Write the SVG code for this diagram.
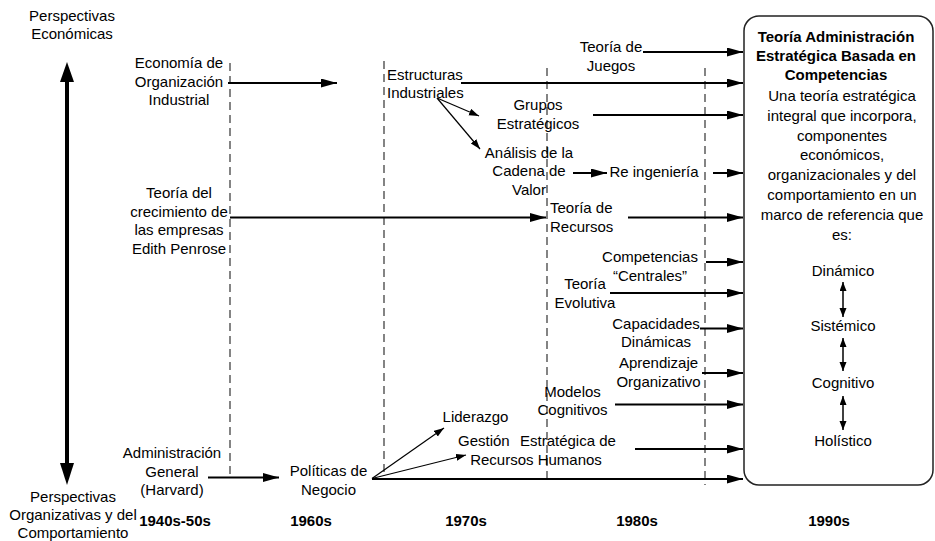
<svg xmlns="http://www.w3.org/2000/svg" width="935" height="541" viewBox="0 0 935 541">
  <defs>
    <style>
      text { font-family: "Liberation Sans", Arial, sans-serif; font-size: 15px; fill: #000; }
      .c { text-anchor: middle; }
      .b { font-weight: bold; }
      .thick { stroke: #000; stroke-width: 2; fill: none; marker-end: url(#headL); }
      .thin { stroke: #000; stroke-width: 1.2; fill: none; marker-end: url(#headS); }
      .both { stroke: #000; stroke-width: 1.5; fill: none; marker-start: url(#headD); marker-end: url(#headD); }
      .era { stroke: #333; stroke-width: 1.2; stroke-dasharray: 8 5; fill: none; }
    </style>
    <marker id="headL" markerUnits="userSpaceOnUse" markerWidth="16" markerHeight="10" refX="16" refY="4.5" orient="auto">
      <path d="M0,0 L16,4.5 L0,9 z" fill="#000"/>
    </marker>
    <marker id="headS" markerUnits="userSpaceOnUse" markerWidth="10" markerHeight="8" refX="10" refY="3.5" orient="auto">
      <path d="M0,0 L10,3.5 L0,7 z" fill="#000"/>
    </marker>
    <marker id="headD" markerUnits="userSpaceOnUse" markerWidth="9" markerHeight="8" refX="9" refY="3.5" orient="auto-start-reverse">
      <path d="M0,0 L9,3.5 L0,7 z" fill="#000"/>
    </marker>
  </defs>

  <!-- decade separators -->
  <g id="timeline">
    <line class="era" x1="230" y1="63" x2="230" y2="478"/>
    <line class="era" x1="384" y1="61" x2="384" y2="476"/>
    <line class="era" x1="547" y1="68" x2="547" y2="484"/>
    <line class="era" x1="705" y1="68" x2="705" y2="485"/>
  </g>

  <!-- axis: economic vs organizational perspectives -->
  <g id="axis">
    <line x1="67" y1="80" x2="67" y2="465" stroke="#000" stroke-width="4"/>
    <path d="M67,62 L74,82 L60,82 z" fill="#000"/>
    <path d="M67,485 L74,463 L60,463 z" fill="#000"/>
  </g>
  <g id="perspectivas-economicas">
    <text class="c" x="72" y="21">Perspectivas</text>
    <text class="c" x="72" y="39">Económicas</text>
  </g>
  <g id="perspectivas-organizativas">
    <text class="c" x="73" y="502">Perspectivas</text>
    <text class="c" x="73" y="520">Organizativas y del</text>
    <text class="c" x="73" y="538">Comportamiento</text>
  </g>

  <!-- decades -->
  <g id="decades">
    <text class="c b" x="175" y="526">1940s-50s</text>
    <text class="c b" x="311" y="526">1960s</text>
    <text class="c b" x="466" y="526">1970s</text>
    <text class="c b" x="637" y="526">1980s</text>
    <text class="c b" x="829" y="526">1990s</text>
  </g>

  <!-- theory nodes -->
  <g id="economia-organizacion-industrial">
    <text class="c" x="179" y="68">Economía de</text>
    <text class="c" x="179" y="86.5">Organización</text>
    <text class="c" x="179" y="105">Industrial</text>
  </g>
  <g id="estructuras-industriales">
    <text x="387" y="79.5">Estructuras</text>
    <text x="387" y="98">Industriales</text>
  </g>
  <g id="teoria-juegos">
    <text class="c" x="611" y="52">Teoría de</text>
    <text class="c" x="611" y="70.5">Juegos</text>
  </g>
  <g id="grupos-estrategicos">
    <text class="c" x="538" y="110">Grupos</text>
    <text class="c" x="538" y="128.5">Estratégicos</text>
  </g>
  <g id="cadena-valor">
    <text class="c" x="529" y="157.5">Análisis de la</text>
    <text class="c" x="529" y="176">Cadena de</text>
    <text class="c" x="529" y="194.5">Valor</text>
  </g>
  <g id="reingenieria">
    <text class="c" x="654" y="176.5">Re ingeniería</text>
  </g>
  <g id="penrose">
    <text class="c" x="179" y="198">Teoría del</text>
    <text class="c" x="179" y="216.5">crecimiento de</text>
    <text class="c" x="179" y="235">las empresas</text>
    <text class="c" x="179" y="253.5">Edith Penrose</text>
  </g>
  <g id="teoria-recursos">
    <text x="550" y="213">Teoría de</text>
    <text x="550" y="231.5">Recursos</text>
  </g>
  <g id="competencias-centrales">
    <text class="c" x="650" y="262">Competencias</text>
    <text class="c" x="650" y="280.5">“Centrales”</text>
  </g>
  <g id="teoria-evolutiva">
    <text class="c" x="585" y="289">Teoría</text>
    <text class="c" x="585" y="307.5">Evolutiva</text>
  </g>
  <g id="capacidades-dinamicas">
    <text class="c" x="656" y="328.5">Capacidades</text>
    <text class="c" x="656" y="347">Dinámicas</text>
  </g>
  <g id="aprendizaje-organizativo">
    <text class="c" x="658.5" y="368">Aprendizaje</text>
    <text class="c" x="658.5" y="386.5">Organizativo</text>
  </g>
  <g id="modelos-cognitivos">
    <text class="c" x="572.5" y="396.5">Modelos</text>
    <text class="c" x="572.5" y="415">Cognitivos</text>
  </g>
  <g id="liderazgo">
    <text class="c" x="475.5" y="422">Liderazgo</text>
  </g>
  <g id="gestion-rrhh">
    <text y="446"><tspan x="458">Gestión</tspan><tspan x="520">Estratégica de</tspan></text>
    <text class="c" x="536" y="464.5">Recursos Humanos</text>
  </g>
  <g id="administracion-general">
    <text class="c" x="172" y="458">Administración</text>
    <text class="c" x="172" y="476.5">General</text>
    <text class="c" x="172" y="495">(Harvard)</text>
  </g>
  <g id="politicas-negocio">
    <text class="c" x="328.5" y="476">Políticas de</text>
    <text class="c" x="328.5" y="494.5">Negocio</text>
  </g>

  <!-- target theory -->
  <g id="teoria-competencias">
    <rect x="744" y="16" width="189" height="469" rx="15" ry="15" fill="#fff" stroke="#222" stroke-width="1.5"/>
    <text class="c b" x="836" y="42">Teoría Administración</text>
    <text class="c b" x="836" y="61">Estratégica Basada en</text>
    <text class="c b" x="836" y="80">Competencias</text>
    <text class="c" x="842" y="101">Una teoría estratégica</text>
    <text class="c" x="842" y="120.8">integral que incorpora,</text>
    <text class="c" x="842" y="140.6">componentes</text>
    <text class="c" x="842" y="160.4">económicos,</text>
    <text class="c" x="842" y="180.2">organizacionales y del</text>
    <text class="c" x="842" y="200">comportamiento en un</text>
    <text class="c" x="842" y="219.8">marco de referencia que</text>
    <text class="c" x="842" y="239.6">es:</text>
    <text class="c" x="843" y="276">Dinámico</text>
    <text class="c" x="843" y="331">Sistémico</text>
    <text class="c" x="843" y="387.5">Cognitivo</text>
    <text class="c" x="843" y="446">Holístico</text>
    <line class="both" x1="843" y1="282" x2="843" y2="317"/>
    <line class="both" x1="843" y1="338" x2="843" y2="371"/>
    <line class="both" x1="843" y1="396" x2="843" y2="430"/>
  </g>

  <!-- connectors -->
  <g id="connectors">
    <path class="thick" d="M228,83 H337"/>
    <path class="thick" d="M461,83 H743"/>
    <path class="thick" d="M643,52 H743"/>
    <path class="thick" d="M593,115 H743"/>
    <path class="thick" d="M573,173 H607"/>
    <path class="thick" d="M713,173 H743"/>
    <path class="thick" d="M230,217.5 H546"/>
    <path class="thick" d="M628,217.5 H743"/>
    <path class="thick" d="M706,262 H743"/>
    <path class="thick" d="M610,293 H743"/>
    <path class="thick" d="M700,328.5 H743"/>
    <path class="thick" d="M702,373 H743"/>
    <path class="thick" d="M615,404.5 H743"/>
    <path class="thick" d="M635,449 H743"/>
    <path class="thick" d="M208,477.5 H279"/>
    <path class="thick" d="M372,479 H743"/>
    <path class="thin" d="M437,98 L479,116"/>
    <path class="thin" d="M437,98 L480,149"/>
    <path class="thin" d="M372,478.5 L444,428"/>
    <path class="thin" d="M372,478.5 L466,455"/>
  </g>
</svg>
